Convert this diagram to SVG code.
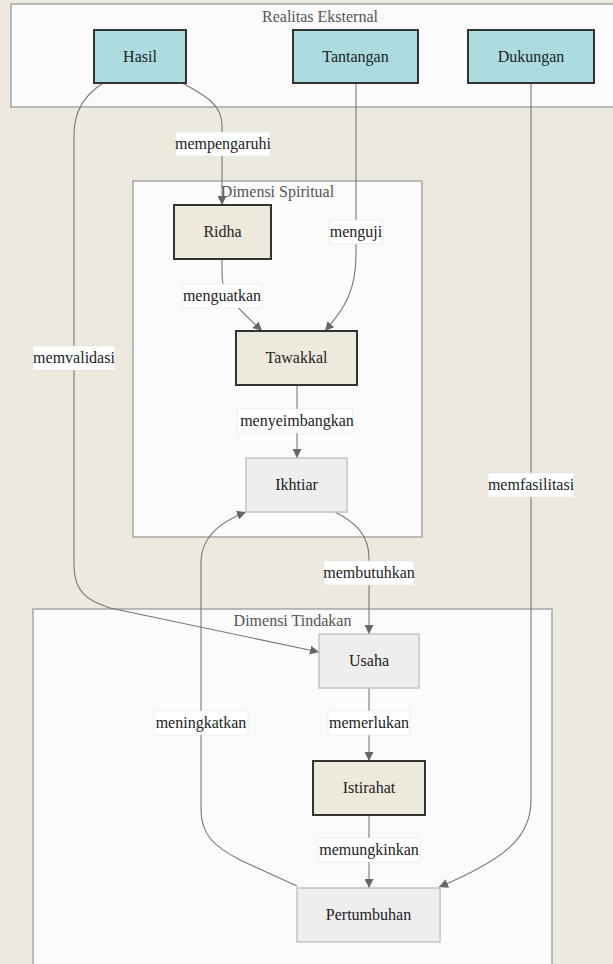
<svg xmlns="http://www.w3.org/2000/svg" width="613" height="964" viewBox="0 0 613 964">
  <style>
    .cluster { fill: #fbfbfb; stroke: #aaaaaa; stroke-width: 1.6; }
    .ctitle { font-family: "Liberation Serif", "Times New Roman", serif; font-size: 16px; fill: #555555; text-anchor: middle; }
    .ext { fill: #acdce0; stroke: #333333; stroke-width: 2; }
    .spirit { fill: #ede9dd; stroke: #333333; stroke-width: 2; }
    .act { fill: #eeeeee; stroke: #c4c4c4; stroke-width: 1.5; }
    .ntext { font-family: "Liberation Serif", "Times New Roman", serif; font-size: 16px; fill: #222222; text-anchor: middle; }
    .edge { fill: none; stroke: #777777; stroke-width: 1.1; }
    .lbg { fill: #ffffff; stroke: #e4e4e4; stroke-width: 0.6; }
    .ltext { font-family: "Liberation Serif", "Times New Roman", serif; font-size: 16px; fill: #222222; text-anchor: middle; }
  </style>
  <defs>
    <marker id="arrow" viewBox="0 0 10 10" refX="10" refY="5" markerWidth="9" markerHeight="9" markerUnits="userSpaceOnUse" orient="auto">
      <path d="M0,0 L10,5 L0,10 z" fill="#666666"/>
    </marker>
  </defs>

  <!-- canvas -->
  <rect x="0" y="0" width="613" height="964" fill="#ede9de"/>

  <!-- clusters -->
  <g id="cluster-realitas">
    <rect class="cluster" x="11" y="4" width="620" height="103"/>
    <text class="ctitle" x="320" y="22">Realitas Eksternal</text>
  </g>
  <g id="cluster-spiritual">
    <rect class="cluster" x="133" y="181" width="289" height="356"/>
    <text class="ctitle" x="277.5" y="197">Dimensi Spiritual</text>
  </g>
  <g id="cluster-tindakan">
    <rect class="cluster" x="33" y="609" width="519" height="370"/>
    <text class="ctitle" x="292.5" y="626">Dimensi Tindakan</text>
  </g>

  <!-- connectors -->
  <g id="connectors">
    <path class="edge" marker-end="url(#arrow)" d="M182,83 C205,95 222,105 222,125 L222,205"/>
    <path class="edge" marker-end="url(#arrow)" d="M103,83 C85,95 74,110 74,135 L74,565 C74,590 85,600 110,608 L319,652"/>
    <path class="edge" marker-end="url(#arrow)" d="M356,83 L356,255 C356,290 345,308 325,331"/>
    <path class="edge" marker-end="url(#arrow)" d="M222,259 L222,275 C222,295 235,305 262,331"/>
    <path class="edge" marker-end="url(#arrow)" d="M297,385 L297,458"/>
    <path class="edge" marker-end="url(#arrow)" d="M335,512 C355,522 369,535 369,558 L369,634"/>
    <path class="edge" marker-end="url(#arrow)" d="M297,886 L240,860 C215,847 201,835 201,810 L201,562 C201,537 220,522 246,512"/>
    <path class="edge" marker-end="url(#arrow)" d="M369,688 L369,761"/>
    <path class="edge" marker-end="url(#arrow)" d="M369,815 L369,888"/>
    <path class="edge" marker-end="url(#arrow)" d="M531,83 L531,800 C531,835 510,857 439,887"/>

    <!-- connector labels -->
    <rect class="lbg" x="176" y="132" width="94" height="24"/>
    <text class="ltext" x="223" y="149">mempengaruhi</text>
    <rect class="lbg" x="33" y="346" width="82" height="24"/>
    <text class="ltext" x="74" y="363">memvalidasi</text>
    <rect class="lbg" x="329" y="220" width="54" height="24"/>
    <text class="ltext" x="356" y="237">menguji</text>
    <rect class="lbg" x="182" y="284" width="80" height="24"/>
    <text class="ltext" x="222" y="301">menguatkan</text>
    <rect class="lbg" x="237" y="409" width="116" height="24"/>
    <text class="ltext" x="297" y="426">menyeimbangkan</text>
    <rect class="lbg" x="324" y="561" width="90" height="24"/>
    <text class="ltext" x="369" y="578">membutuhkan</text>
    <rect class="lbg" x="154" y="711" width="94" height="24"/>
    <text class="ltext" x="201" y="728">meningkatkan</text>
    <rect class="lbg" x="328" y="711" width="82" height="24"/>
    <text class="ltext" x="369" y="728">memerlukan</text>
    <rect class="lbg" x="318" y="838" width="102" height="24"/>
    <text class="ltext" x="369" y="855">memungkinkan</text>
    <rect class="lbg" x="488" y="473" width="86" height="24"/>
    <text class="ltext" x="531" y="490">memfasilitasi</text>
  </g>

  <!-- nodes -->
  <g id="hasil">
    <rect class="ext" x="94" y="30" width="92" height="53"/>
    <text class="ntext" x="140" y="62">Hasil</text>
  </g>
  <g id="tantangan">
    <rect class="ext" x="293" y="30" width="125" height="53"/>
    <text class="ntext" x="355.5" y="62">Tantangan</text>
  </g>
  <g id="dukungan">
    <rect class="ext" x="468" y="30" width="126" height="53"/>
    <text class="ntext" x="531" y="62">Dukungan</text>
  </g>
  <g id="ridha">
    <rect class="spirit" x="174" y="205" width="97" height="54"/>
    <text class="ntext" x="222.5" y="237">Ridha</text>
  </g>
  <g id="tawakkal">
    <rect class="spirit" x="236" y="331" width="121" height="54"/>
    <text class="ntext" x="296.5" y="363">Tawakkal</text>
  </g>
  <g id="ikhtiar">
    <rect class="act" x="246" y="458" width="101" height="54"/>
    <text class="ntext" x="296.5" y="490">Ikhtiar</text>
  </g>
  <g id="usaha">
    <rect class="act" x="319" y="634" width="100" height="54"/>
    <text class="ntext" x="369" y="666">Usaha</text>
  </g>
  <g id="istirahat">
    <rect class="spirit" x="313" y="761" width="112" height="54"/>
    <text class="ntext" x="369" y="793">Istirahat</text>
  </g>
  <g id="pertumbuhan">
    <rect class="act" x="297" y="888" width="143" height="54"/>
    <text class="ntext" x="368.5" y="920">Pertumbuhan</text>
  </g>
</svg>
